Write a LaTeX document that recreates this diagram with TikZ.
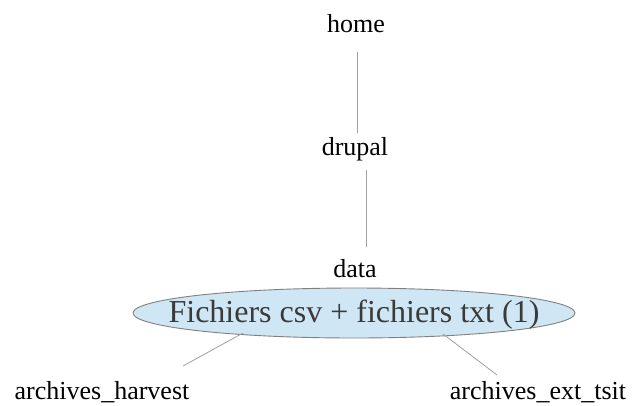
\documentclass[tikz,border=0pt]{standalone}
\usepackage{fontspec}
\setmainfont{Liberation Serif}
\usetikzlibrary{shapes.geometric}
\definecolor{ellfill}{HTML}{CFE6F4}
\definecolor{ellline}{HTML}{808080}
\definecolor{elltext}{HTML}{3A3A3A}
\definecolor{conn}{HTML}{A0A0A0}
\begin{document}
\begin{tikzpicture}[x=1pt,y=-1pt,
  lbl/.style={anchor=base,inner sep=0pt,font=\fontsize{26}{30}\selectfont},
  conline/.style={draw=conn,line width=0.8pt},
  bubble/.style={ellipse,draw=ellline,fill=ellfill,line width=0.9pt,inner sep=0pt,
    minimum width=442pt,minimum height=50pt},
  bubbletext/.style={inner sep=0pt,text=elltext,font=\fontsize{32}{36}\selectfont}]
\useasboundingbox (0,0) rectangle (635,405);
\node[lbl] (home) at (356,32) {home};
\node[lbl] (drupal) at (355,155) {drupal};
\node[lbl] (data) at (355,277) {data};
\node[bubble] (files) at (354,313) {};
\node[bubbletext,anchor=base] (filestext) at (354,322) {Fichiers csv + fichiers txt (1)};
\node[lbl] (harvest) at (102,399) {archives\_harvest};
\node[lbl] (tsit) at (538,399) {archives\_ext\_tsit};
\coordinate (a1) at (357,52);
\coordinate (a2) at (357,133);
\coordinate (b1) at (366,170);
\coordinate (b2) at (366,247);
\coordinate (c1) at (243,333);
\coordinate (c2) at (183,366);
\coordinate (d1) at (443,334);
\coordinate (d2) at (497,375);
\draw[conline] (a1) -- (a2);
\draw[conline] (b1) -- (b2);
\draw[conline] (c1) -- (c2);
\draw[conline] (d1) -- (d2);
\end{tikzpicture}
\end{document}
